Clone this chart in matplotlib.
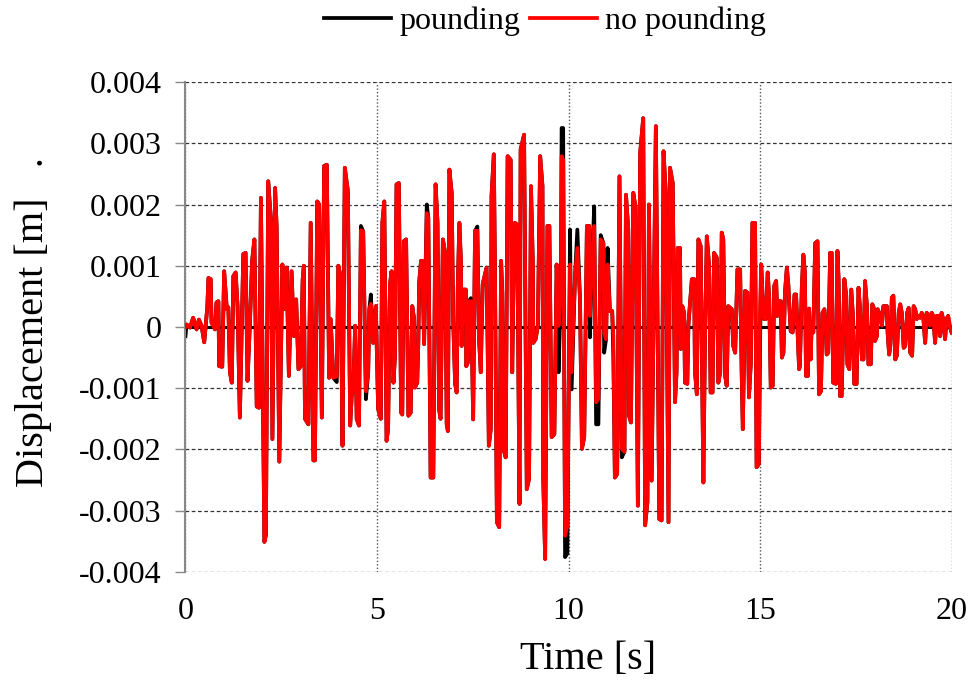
import numpy as np
import matplotlib
matplotlib.use("Agg")
import matplotlib.pyplot as plt
from matplotlib.ticker import FuncFormatter

plt.rcParams['font.family'] = ['Liberation Serif', 'DejaVu Serif']
plt.rcParams['axes.unicode_minus'] = False

# Displacement response without pounding, in mm, piecewise by time window
t_00_05 = [0.00, 0.03, 0.12, 0.20, 0.29, 0.35, 0.42, 0.49, 0.57, 0.60, 0.66, 0.68, 0.77, 0.81, 0.86,
           0.88, 0.96, 1.01, 1.08, 1.12, 1.16, 1.21, 1.25, 1.31, 1.36, 1.42, 1.51, 1.57, 1.62, 1.68,
           1.74, 1.80, 1.86, 1.92, 1.97, 2.06, 2.10, 2.16, 2.23, 2.27, 2.34, 2.38, 2.45, 2.53, 2.60,
           2.64, 2.70, 2.77, 2.83, 2.89, 2.95, 3.01, 3.06, 3.09, 3.12, 3.21, 3.27, 3.34, 3.38, 3.44,
           3.49, 3.56, 3.62, 3.69, 3.75, 3.79, 3.86, 3.95, 3.99, 4.05, 4.10, 4.16, 4.24, 4.30, 4.34,
           4.38, 4.43, 4.47, 4.53, 4.58, 4.64, 4.71, 4.77, 4.80, 4.84, 4.90, 4.97]
d_00_05 = [0.00, 0.04, -0.01, 0.15, -0.04, 0.12, 0.02, -0.25, 0.32, 0.80, 0.78, 0.07, -0.04, 0.40, 0.42,
           -0.64, -0.65, 0.91, 0.29, 0.32, -0.74, -0.91, 0.83, 0.89, 0.34, -1.48, 1.19, 1.21, -0.88, 0.02,
           1.08, 1.43, -1.30, -1.32, 2.11, -3.51, -3.40, 2.38, 1.76, -1.83, 2.27, 1.63, -2.20, 1.02, 0.29,
           0.97, -0.80, 0.91, -0.15, 0.45, -0.69, -0.64, 0.78, 1.00, -1.50, -1.59, 1.70, -2.18, -2.18, 2.05,
           2.00, -1.48, 2.63, 2.65, -0.83, 0.13, -0.83, -0.81, 1.00, 0.83, -1.94, 2.60, 2.22, -1.61, -1.13,
           -1.02, 0.02, -1.50, -1.61, 1.58, 1.56, -1.05, -0.75, 0.29, 0.38, -0.26, 0.34]

t_05_10 = [5.03, 5.10, 5.14, 5.19, 5.25, 5.29, 5.34, 5.38, 5.43, 5.47, 5.51, 5.57, 5.63, 5.66, 5.70,
           5.76, 5.82, 5.88, 5.92, 5.97, 5.99, 6.05, 6.08, 6.10, 6.15, 6.18, 6.23, 6.30, 6.34, 6.40,
           6.47, 6.53, 6.58, 6.62, 6.66, 6.72, 6.78, 6.82, 6.85, 6.89, 6.95, 6.99, 7.04, 7.08, 7.11,
           7.15, 7.19, 7.21, 7.25, 7.32, 7.33, 7.37, 7.40, 7.45, 7.49, 7.51, 7.56, 7.62, 7.66, 7.71,
           7.73, 7.76, 7.82, 7.86, 7.89, 7.92, 7.97, 7.99, 8.05, 8.08, 8.13, 8.19, 8.24, 8.27, 8.30,
           8.36, 8.41, 8.49, 8.53, 8.56, 8.60, 8.66, 8.72, 8.75, 8.84, 8.91, 8.97, 9.02, 9.07, 9.08,
           9.14, 9.20, 9.26, 9.32, 9.34, 9.39, 9.45, 9.50, 9.56, 9.63, 9.69, 9.74, 9.80, 9.82, 9.86,
           9.91, 9.97]
d_05_10 = [-1.34, -1.50, 1.70, 2.05, -1.86, -1.67, 0.70, 0.91, -0.91, -0.47, 2.33, 2.35, -1.40, -1.43, 1.40,
           1.43, -1.45, -1.40, 0.34, 0.13, -0.99, -0.91, -0.23, 0.72, 1.08, 1.08, -0.28, 1.86, 1.78, -2.46,
           -2.46, 2.33, 1.70, -1.34, -1.50, 1.43, 1.21, -1.59, -1.70, 2.57, 2.19, 0.07, -0.93, -1.07, 0.67,
           1.70, 1.10, -0.31, 0.61, 0.61, -0.64, -0.58, 0.42, 0.42, -0.74, -1.51, 1.57, 1.57, -0.15, -0.74,
           -0.09, 0.70, 0.86, 0.97, -0.36, -1.94, -1.67, 2.14, 2.82, 0.89, -3.19, -3.27, 1.08, 0.56, -1.99,
           -2.13, 2.79, 2.73, -0.74, 0.56, 1.70, 1.67, -2.89, 2.90, 3.14, -2.65, -2.48, 2.30, 0.99, -0.26,
           -0.20, 0.02, 2.79, 2.30, -2.48, -3.79, 1.65, 1.65, -1.80, -1.75, 1.02, 0.02, 0.56, 2.79, 2.73,
           -3.41, -3.25]

t_10_15 = [10.04, 10.08, 10.17, 10.23, 10.30, 10.35, 10.41, 10.48, 10.54, 10.56, 10.61, 10.67, 10.72, 10.78, 10.84,
           10.91, 10.93, 10.98, 11.02, 11.08, 11.14, 11.17, 11.21, 11.27, 11.33, 11.39, 11.46, 11.50, 11.56, 11.58,
           11.63, 11.69, 11.75, 11.81, 11.87, 11.95, 12.00, 12.06, 12.10, 12.17, 12.28, 12.37, 12.43, 12.48, 12.54,
           12.61, 12.65, 12.72, 12.78, 12.82, 12.85, 12.91, 12.93, 12.97, 13.02, 13.04, 13.10, 13.13, 13.22, 13.28,
           13.30, 13.35, 13.39, 13.45, 13.52, 13.56, 13.61, 13.67, 13.71, 13.76, 13.80, 13.87, 13.91, 13.96, 14.00,
           14.04, 14.09, 14.13, 14.17, 14.26, 14.30, 14.35, 14.41, 14.48, 14.52, 14.55, 14.61, 14.67, 14.71, 14.76,
           14.80, 14.87, 14.91, 14.97]
d_10_15 = [1.02, -0.74, 0.83, 1.29, 0.45, -1.99, -1.80, 1.65, 1.65, 0.18, 0.99, 1.65, -1.23, -1.17, 1.43,
           1.37, -0.10, -0.20, 1.02, 0.26, 0.26, -0.15, -2.46, -2.40, 2.46, -1.99, -2.04, 2.16, 1.59, -1.45,
           -1.56, 2.19, 1.95, -2.92, 2.84, 3.41, -3.24, -2.86, 2.00, -2.51, 3.28, -3.14, -3.16, 2.87, 2.19,
           -3.19, 2.60, 2.35, -1.23, -0.74, 1.29, 1.29, -0.36, 0.34, 0.23, -0.91, -0.93, 0.04, 0.78, 0.78,
           -0.72, -1.10, 1.43, 1.32, -2.54, -0.31, 1.48, 1.00, -1.07, -1.07, 1.21, 1.13, -0.91, -0.74, 1.54,
           1.43, -0.80, -0.96, 0.34, 0.29, -0.31, -0.42, 0.94, 0.94, -0.74, -1.67, 0.59, 0.56, -1.15, -0.58,
           1.70, 1.70, -2.29, -2.24]

t_15_20 = [15.00, 15.03, 15.07, 15.10, 15.15, 15.20, 15.24, 15.28, 15.33, 15.37, 15.42, 15.45, 15.50, 15.54, 15.57,
           15.61, 15.65, 15.70, 15.74, 15.76, 15.80, 15.85, 15.90, 15.94, 15.98, 16.02, 16.04, 16.09, 16.13, 16.17,
           16.20, 16.25, 16.28, 16.32, 16.35, 16.39, 16.44, 16.50, 16.54, 16.59, 16.63, 16.68, 16.72, 16.74, 16.78,
           16.83, 16.87, 16.91, 16.98, 17.02, 17.05, 17.09, 17.13, 17.20, 17.25, 17.28, 17.33, 17.38, 17.42, 17.46,
           17.52, 17.57, 17.61, 17.66, 17.70, 17.74, 17.79, 17.83, 17.89, 17.93, 17.98, 18.00, 18.05, 18.07, 18.11,
           18.15, 18.18, 18.22, 18.31, 18.33, 18.37, 18.40, 18.44, 18.48, 18.53, 18.57, 18.62, 18.66, 18.70, 18.75,
           18.79, 18.84, 18.88, 18.92, 18.97, 19.01, 19.05, 19.09, 19.13, 19.18, 19.22, 19.26, 19.31, 19.35, 19.39,
           19.44, 19.48, 19.52, 19.57, 19.61, 19.65, 19.70, 19.74, 19.78, 19.83, 19.87, 19.91, 19.96, 20.00]
d_15_20 = [0.34, 1.02, 0.45, 0.13, 0.13, 0.89, 0.45, -0.99, -0.96, 0.67, 0.75, 0.18, 0.42, 0.42, -0.50,
           -0.42, 0.56, 0.97, 0.67, 0.40, -0.07, -0.09, 0.53, 0.53, -0.09, -0.69, -0.64, 0.64, 1.18, 0.89,
           -0.80, -0.80, 0.30, -0.53, 0.07, -0.09, 1.37, 1.40, -1.10, -1.05, 0.23, 0.29, -0.09, -0.45, -0.42,
           1.21, 1.21, -0.91, -0.93, 1.24, 0.78, -1.13, -1.13, 0.78, 0.51, -0.61, -0.69, 0.61, 0.23, -0.93,
           -0.93, 0.64, 0.29, -0.53, -0.53, 0.75, 0.34, -0.61, -0.61, 0.37, 0.29, -0.23, -0.15, 0.29, 0.23,
           0.15, 0.02, 0.34, 0.34, -0.09, -0.45, -0.31, 0.48, 0.51, -0.53, -0.47, 0.23, 0.37, 0.23, -0.34,
           -0.31, 0.23, 0.31, -0.42, -0.47, 0.34, 0.29, 0.13, 0.18, 0.15, 0.23, 0.18, -0.26, 0.23, 0.20,
           0.02, 0.23, 0.18, -0.26, 0.18, 0.18, -0.15, 0.23, 0.13, -0.20, 0.13, 0.18, -0.01, -0.09]

# Samples where the pounding response departs from the no-pounding one (mm)
pound_t = [0.00, 3.95, 4.58, 4.71, 4.84, 6.30, 7.45, 7.62, 9.74, 9.82, 9.86, 9.91, 9.97, 10.04,
           10.08, 10.23, 10.56, 10.67, 10.72, 10.78, 10.84, 10.93, 11.02, 11.17, 11.39, 15.00]
pound_d = [-0.15, -0.90, 1.65, -1.18, 0.53, 2.00, 0.47, 1.64, -0.74, 3.25, 3.25, -3.76, -3.70, 1.59,
           -1.02, 1.59, -0.17, 1.97, -1.59, -1.59, 1.50, -0.42, 1.29, -0.47, -2.13, -0.30]

x_ticks = [0, 5, 10, 15, 20]
y_ticks = [-0.004, -0.003, -0.002, -0.001, 0, 0.001, 0.002, 0.003, 0.004]

time = np.array(t_00_05 + t_05_10 + t_10_15 + t_15_20)
no_pounding = np.array(d_00_05 + d_05_10 + d_10_15 + d_15_20) / 1000.0
pounding = no_pounding.copy()
for tp, dp in zip(pound_t, pound_d):
    pounding[np.argmin(np.abs(time - tp))] = dp / 1000.0

fig = plt.figure(figsize=(9.71, 6.84), dpi=100)
ax = fig.add_axes([0.191, 0.164, 0.789, 0.716])

ax.axhline(0, color='black', lw=2.2, zorder=1.5)
l1, = ax.plot(time, pounding, color='black', lw=2.7, zorder=2, label='pounding')
l2, = ax.plot(time, no_pounding, color='#ff0000', lw=2.7, zorder=3, label='no pounding')

ax.set_xlim(0, 20)
ax.set_ylim(-0.004, 0.004)
ax.set_xticks(x_ticks)
ax.set_yticks(y_ticks)
ax.yaxis.set_major_formatter(FuncFormatter(lambda v, p: '0' if abs(v) < 1e-12 else f'{v:.3f}'))

ax.set_axisbelow(True)
ax.yaxis.grid(True, ls=(0, (3, 2)), color='#333333', lw=0.9)
ax.xaxis.grid(True, ls=(0, (1, 1.5)), color='#555555', lw=1.0)
for s in ('top', 'right', 'bottom'):
    ax.spines[s].set_visible(False)
ax.spines['left'].set_color('#888888')
ax.spines['left'].set_linewidth(1.5)

ax.tick_params(axis='y', direction='out', length=7, width=1, color='#888888',
               labelsize=23, pad=10)
ax.tick_params(axis='x', length=0, labelsize=23, pad=18)

# Axis titles placed in figure coordinates
fig.text(588 / 971, 1 - 660 / 684, 'Time [s]', ha='center', va='center', fontsize=29)
fig.text(33 / 971, 1 - 322 / 684, 'Displacement [m]   .', ha='center', va='center',
         rotation=90, fontsize=29)

fig.legend(handles=[l1, l2], loc='center', bbox_to_anchor=(545 / 971, 1 - 21 / 684),
           ncol=2, frameon=False, fontsize=23, handlelength=2.1, handletextpad=0.25,
           columnspacing=0.3)

fig.savefig('out.png', dpi=100)
